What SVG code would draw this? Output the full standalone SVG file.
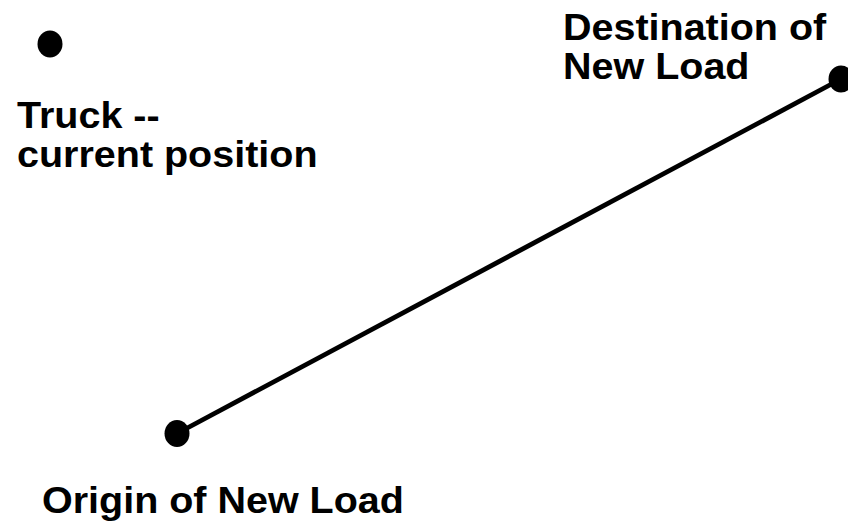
<svg xmlns="http://www.w3.org/2000/svg" width="848" height="525" viewBox="0 0 848 525">
<style>
.lbl{font-family:"Liberation Sans",Arial,sans-serif;font-weight:bold;font-size:36.5px;fill:#000}
.dot{fill:#000}
.conn{stroke:#000;stroke-width:4.8;fill:none}
</style>
<rect width="848" height="525" fill="#fff"/>
<g id="connectors">
<line class="conn" x1="177" y1="433.5" x2="841" y2="79"/>
</g>
<g id="truck">
<ellipse class="dot" cx="50" cy="44" rx="12.5" ry="13.5"/>
<text class="lbl" transform="translate(17,128) scale(1.082,1)">Truck --</text>
<text class="lbl" transform="translate(17,167) scale(1.082,1)">current position</text>
</g>
<g id="origin">
<ellipse class="dot" cx="177" cy="433.5" rx="12.5" ry="13.5"/>
<text class="lbl" transform="translate(42,513) scale(1.082,1)">Origin of New Load</text>
</g>
<g id="destination">
<ellipse class="dot" cx="841" cy="79" rx="12.5" ry="13.5"/>
<text class="lbl" transform="translate(563,40) scale(1.082,1)">Destination of</text>
<text class="lbl" transform="translate(563,79) scale(1.082,1)">New Load</text>
</g>
</svg>
